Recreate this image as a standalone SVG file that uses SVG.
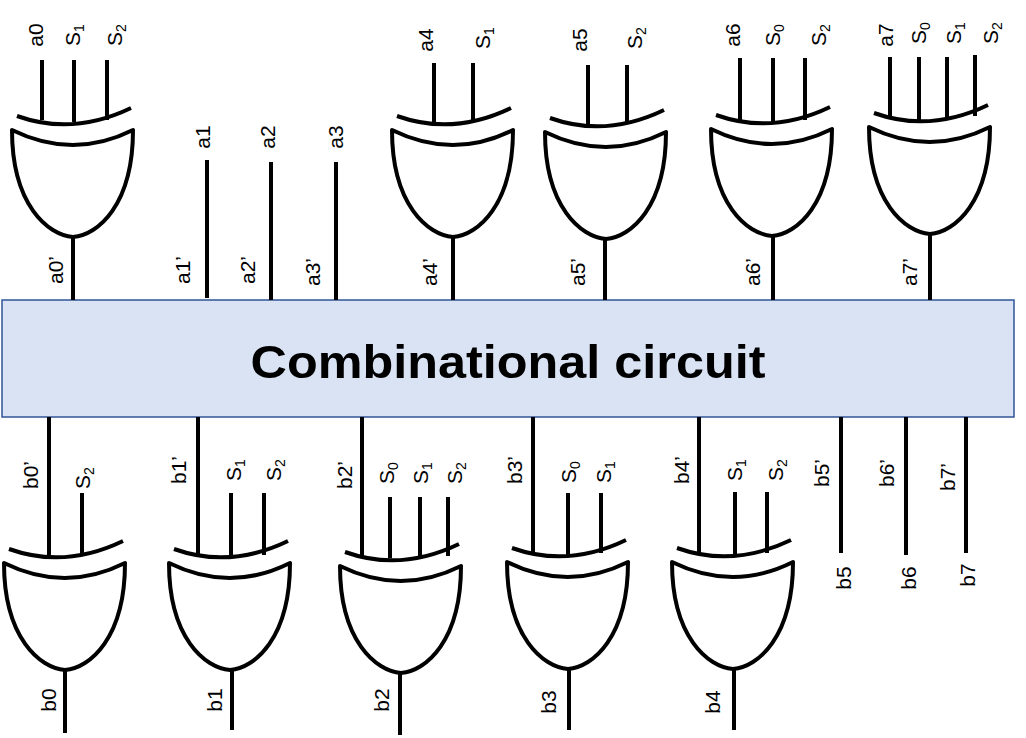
<svg xmlns="http://www.w3.org/2000/svg" xmlns:xlink="http://www.w3.org/1999/xlink" width="1026" height="738" viewBox="0 0 1026 738">
<style>
.w{stroke:#000;stroke-width:4;fill:none;stroke-linecap:butt}
.g{stroke:#000;stroke-width:4;fill:#fff;stroke-linejoin:round}
.t{font-family:"Liberation Sans",Arial,sans-serif;font-size:21px;fill:#000;text-anchor:middle}
.s{font-size:14px}
</style>
<defs>
<g id="xor">
<path class="g" d="M-61,0 Q0,30 60,0 C60,75 25,105 0,107 C-25,105 -61,75 -61,0 Z"/>
<path class="w" d="M-56,-14 Q0,6 58,-22"/>
</g>
</defs>
<rect id="box" x="2" y="300" width="1012" height="117" fill="#dae3f3" stroke="#2f5597" stroke-width="1.5"/>
<text x="508" y="378" font-family="Liberation Sans,Arial,sans-serif" font-weight="bold" font-size="46" text-anchor="middle" textLength="515" lengthAdjust="spacingAndGlyphs">Combinational circuit</text>
<g id="connectors" class="w">
<path d="M42,60V120 M74,60V122 M107,60V120 M73,237V300"/>
<path d="M207,160V298 M271,162V300 M336,162V300"/>
<path d="M434,63V122 M473,63V122 M453,237V300"/>
<path d="M588,65V124 M627,65V124 M605,237V300"/>
<path d="M740,58V120 M773,58V122 M805,58V120 M773,237V300"/>
<path d="M890,57V118 M919,57V120 M947,57V120 M975,55V116 M930,235V300"/>
<path d="M49,417V555 M82,493V555 M65,670V733"/>
<path d="M198,417V555 M231,493V555 M264,493V555 M232,670V730"/>
<path d="M362,417V556 M390,497V558 M420,497V558 M448,497V556 M400,672V735"/>
<path d="M533,417V553 M568,493V555 M601,493V553 M569,668V730"/>
<path d="M699,417V553 M735,492V555 M767,492V553 M734,668V730"/>
<path d="M841,417V553 M906,417V555 M966,417V553"/>
</g>
<g id="gate_a0"><use xlink:href="#xor" href="#xor" transform="translate(73,130)"/></g>
<g id="gate_a4"><use href="#xor" transform="translate(453,130)"/></g>
<g id="gate_a5"><use href="#xor" transform="translate(606,132)"/></g>
<g id="gate_a6"><use href="#xor" transform="translate(772,129)"/></g>
<g id="gate_a7"><use href="#xor" transform="translate(930,127)"/></g>
<g id="gate_b0"><use href="#xor" transform="translate(65,563)"/></g>
<g id="gate_b1"><use href="#xor" transform="translate(230,563)"/></g>
<g id="gate_b2"><use href="#xor" transform="translate(401,566)"/></g>
<g id="gate_b3"><use href="#xor" transform="translate(568,562)"/></g>
<g id="gate_b4"><use href="#xor" transform="translate(733,562)"/></g>
<g id="labels" class="t">
<text transform="translate(43,35) rotate(-90)">a0</text>
<text transform="translate(80,35) rotate(-90)">S<tspan class="s" dy="4">1</tspan></text>
<text transform="translate(122,35) rotate(-90)">S<tspan class="s" dy="4">2</tspan></text>
<text transform="translate(210,137) rotate(-90)">a1</text>
<text transform="translate(275,137) rotate(-90)">a2</text>
<text transform="translate(343,137) rotate(-90)">a3</text>
<text transform="translate(63,270) rotate(-90)">a0’</text>
<text transform="translate(190,270) rotate(-90)">a1’</text>
<text transform="translate(255,270) rotate(-90)">a2’</text>
<text transform="translate(320,272) rotate(-90)">a3’</text>
<text transform="translate(433,40) rotate(-90)">a4</text>
<text transform="translate(490,38) rotate(-90)">S<tspan class="s" dy="4">1</tspan></text>
<text transform="translate(437,272) rotate(-90)">a4’</text>
<text transform="translate(587,40) rotate(-90)">a5</text>
<text transform="translate(642,38) rotate(-90)">S<tspan class="s" dy="4">2</tspan></text>
<text transform="translate(585,272) rotate(-90)">a5’</text>
<text transform="translate(740,35) rotate(-90)">a6</text>
<text transform="translate(780,35) rotate(-90)">S<tspan class="s" dy="4">0</tspan></text>
<text transform="translate(826,35) rotate(-90)">S<tspan class="s" dy="4">2</tspan></text>
<text transform="translate(760,272) rotate(-90)">a6’</text>
<text transform="translate(893,35) rotate(-90)">a7</text>
<text transform="translate(926,33) rotate(-90)">S<tspan class="s" dy="4">0</tspan></text>
<text transform="translate(961,33) rotate(-90)">S<tspan class="s" dy="4">1</tspan></text>
<text transform="translate(998,33) rotate(-90)">S<tspan class="s" dy="4">2</tspan></text>
<text transform="translate(917,272) rotate(-90)">a7’</text>
<text transform="translate(38,475) rotate(-90)">b0’</text>
<text transform="translate(90,478) rotate(-90)">S<tspan class="s" dy="4">2</tspan></text>
<text transform="translate(186,470) rotate(-90)">b1’</text>
<text transform="translate(241,470) rotate(-90)">S<tspan class="s" dy="4">1</tspan></text>
<text transform="translate(281,470) rotate(-90)">S<tspan class="s" dy="4">2</tspan></text>
<text transform="translate(352,475) rotate(-90)">b2’</text>
<text transform="translate(394,473) rotate(-90)">S<tspan class="s" dy="4">0</tspan></text>
<text transform="translate(428,473) rotate(-90)">S<tspan class="s" dy="4">1</tspan></text>
<text transform="translate(462,473) rotate(-90)">S<tspan class="s" dy="4">2</tspan></text>
<text transform="translate(522,470) rotate(-90)">b3’</text>
<text transform="translate(576,472) rotate(-90)">S<tspan class="s" dy="4">0</tspan></text>
<text transform="translate(611,472) rotate(-90)">S<tspan class="s" dy="4">1</tspan></text>
<text transform="translate(689,470) rotate(-90)">b4’</text>
<text transform="translate(742,470) rotate(-90)">S<tspan class="s" dy="4">1</tspan></text>
<text transform="translate(783,470) rotate(-90)">S<tspan class="s" dy="4">2</tspan></text>
<text transform="translate(829,473) rotate(-90)">b5’</text>
<text transform="translate(894,473) rotate(-90)">b6’</text>
<text transform="translate(955,477) rotate(-90)">b7’</text>
<text transform="translate(851,578) rotate(-90)">b5</text>
<text transform="translate(916,578) rotate(-90)">b6</text>
<text transform="translate(975,575) rotate(-90)">b7</text>
<text transform="translate(56,700) rotate(-90)">b0</text>
<text transform="translate(222,700) rotate(-90)">b1</text>
<text transform="translate(389,700) rotate(-90)">b2</text>
<text transform="translate(556,702) rotate(-90)">b3</text>
<text transform="translate(720,702) rotate(-90)">b4</text>
</g>
</svg>
